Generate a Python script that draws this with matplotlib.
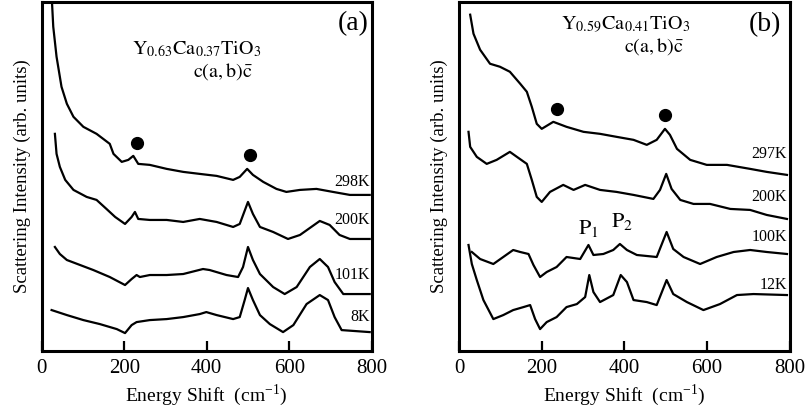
import matplotlib
matplotlib.use("Agg")
import matplotlib.pyplot as plt

plt.rcParams['font.family'] = ['Liberation Serif', 'DejaVu Serif']
plt.rcParams['mathtext.fontset'] = 'stix'

# ---------------- Panel (a) : Y0.63Ca0.37TiO3 ----------------
a_298_x = [24, 28, 36, 48, 61, 77, 101, 133, 149, 165, 174, 194, 210, 222, 234, 262, 303, 343, 383, 424, 464, 480, 498, 512, 537, 569, 593, 626, 666, 706, 747, 795]
a_298_y = [356, 324, 294, 264, 247, 234, 224, 217, 212, 207, 197, 189, 191, 195, 187, 186, 182, 179, 177, 175, 171, 174, 182, 176, 169, 162, 159, 161, 162, 159, 156, 156]

a_200_x = [32, 36, 44, 57, 77, 109, 133, 157, 178, 202, 218, 226, 234, 262, 303, 343, 383, 424, 464, 480, 500, 512, 529, 561, 597, 626, 674, 698, 722, 747, 795]
a_200_y = [217, 197, 184, 171, 161, 154, 151, 142, 134, 127, 134, 139, 132, 131, 131, 129, 132, 129, 124, 127, 149, 137, 124, 119, 112, 116, 130, 126, 116, 112, 112]

a_101_x = [32, 44, 61, 93, 125, 165, 202, 218, 230, 238, 262, 303, 343, 391, 407, 448, 476, 488, 500, 512, 529, 561, 589, 618, 650, 674, 694, 710, 731, 795]
a_101_y = [104, 97, 91, 86, 81, 74, 66, 72, 76, 74, 76, 76, 77, 82, 81, 76, 74, 84, 104, 91, 77, 64, 57, 64, 84, 92, 84, 69, 57, 57]

a_8_x = [24, 61, 101, 141, 182, 202, 218, 230, 262, 303, 343, 383, 399, 424, 464, 480, 492, 500, 512, 529, 553, 585, 610, 642, 674, 694, 710, 727, 795]
a_8_y = [41, 36, 31, 27, 22, 18, 26, 29, 31, 32, 34, 37, 39, 36, 32, 34, 51, 63, 51, 36, 27, 19, 26, 47, 56, 51, 34, 21, 19]

a_labels = ["298K", "200K", "101K", "8K"]
a_label_y = [169, 131, 76, 34]
a_dots_x = [232, 506]
a_dots_y = [208, 196]

# ---------------- Panel (b) : Y0.59Ca0.41TiO3 ----------------
b_297_x = [27, 35, 51, 75, 99, 123, 148, 164, 176, 188, 200, 216, 228, 260, 301, 341, 381, 422, 454, 478, 498, 510, 527, 559, 599, 648, 704, 744, 793]
b_297_y = [336, 317, 301, 287, 284, 279, 267, 259, 244, 227, 222, 226, 229, 224, 219, 217, 214, 211, 206, 211, 222, 216, 202, 191, 186, 186, 182, 179, 176]

b_200_x = [23, 27, 43, 67, 91, 123, 140, 164, 176, 188, 200, 220, 252, 277, 305, 341, 381, 422, 470, 486, 501, 514, 535, 567, 607, 656, 704, 744, 793]
b_200_y = [219, 204, 194, 187, 191, 199, 194, 187, 171, 154, 149, 159, 166, 161, 166, 161, 159, 156, 152, 161, 177, 162, 151, 147, 147, 142, 141, 136, 132]

b_100_x = [31, 51, 83, 107, 131, 148, 168, 180, 196, 212, 236, 260, 293, 313, 325, 349, 373, 389, 406, 430, 478, 502, 518, 543, 583, 623, 664, 704, 744, 793]
b_100_y = [99, 92, 87, 94, 101, 99, 97, 86, 74, 79, 84, 94, 92, 106, 96, 97, 101, 107, 101, 96, 94, 119, 102, 94, 87, 94, 99, 101, 99, 97]

b_12_x = [23, 31, 43, 59, 83, 107, 131, 156, 172, 184, 196, 212, 236, 260, 285, 305, 315, 325, 341, 373, 391, 406, 422, 454, 478, 502, 518, 551, 591, 631, 672, 712, 793]
b_12_y = [106, 87, 71, 51, 32, 36, 41, 44, 46, 32, 22, 29, 34, 44, 47, 54, 76, 59, 49, 56, 76, 69, 51, 49, 46, 71, 57, 49, 41, 47, 56, 57, 56]

b_labels = ["297K", "200K", "100K", "12K"]
b_label_y = [197, 154, 114, 66]
b_dots_x = [238, 498]
b_dots_y = [242, 236]

ticks = [0, 200, 400, 600, 800]

fig = plt.figure(figsize=(8.05, 4.18), dpi=100)
axA = fig.add_axes([0.0518, 0.160, 0.410, 0.836])
axB = fig.add_axes([0.5702, 0.160, 0.411, 0.836])


def style(ax):
    ax.set_xlim(0, 800)
    ax.set_ylim(0, 349)
    ax.set_xticks(ticks)
    ax.set_yticks([])
    ax.tick_params(axis='x', direction='in', length=7, width=1.6, labelsize=15, pad=6,
                   top=False)
    for s in ax.spines.values():
        s.set_linewidth(2.2)
    ax.set_xlabel(r"Energy Shift  (cm$^{\mathregular{-1}}$)", fontsize=14, labelpad=3)
    ax.set_ylabel("Scattering Intensity (arb. units)", fontsize=13.5, labelpad=8)


lw = 1.6
for xs, ys in [(a_298_x, a_298_y), (a_200_x, a_200_y), (a_101_x, a_101_y), (a_8_x, a_8_y)]:
    axA.plot(xs, ys, color='black', lw=lw)
axA.plot(a_dots_x, a_dots_y, 'o', color='black', ms=8.5)
for lab, yy in zip(a_labels, a_label_y):
    axA.text(795, yy, lab, ha='right', va='center', fontsize=11.5)
axA.text(375, 301, r"$\mathrm{Y_{0.63}Ca_{0.37}TiO_3}$", ha='center', va='center', fontsize=14.5)
axA.text(440, 279, r"$\mathrm{c(a,b)\bar{c}}$", ha='center', va='center', fontsize=14.5)
axA.text(792, 327, "(a)", ha='right', va='center', fontsize=20)
style(axA)

for xs, ys in [(b_297_x, b_297_y), (b_200_x, b_200_y), (b_100_x, b_100_y), (b_12_x, b_12_y)]:
    axB.plot(xs, ys, color='black', lw=lw)
axB.plot(b_dots_x, b_dots_y, 'o', color='black', ms=8.5)
for lab, yy in zip(b_labels, b_label_y):
    axB.text(793, yy, lab, ha='right', va='center', fontsize=11.5)
axB.text(402, 326, r"$\mathrm{Y_{0.59}Ca_{0.41}TiO_3}$", ha='center', va='center', fontsize=14.5)
axB.text(470, 304, r"$\mathrm{c(a,b)\bar{c}}$", ha='center', va='center', fontsize=14.5)
axB.text(778, 326, "(b)", ha='right', va='center', fontsize=20)
axB.text(313, 122, r"$\mathrm{P_1}$", ha='center', va='center', fontsize=16)
axB.text(394, 129, r"$\mathrm{P_2}$", ha='center', va='center', fontsize=16)
style(axB)

fig.savefig("out.png", dpi=100)
